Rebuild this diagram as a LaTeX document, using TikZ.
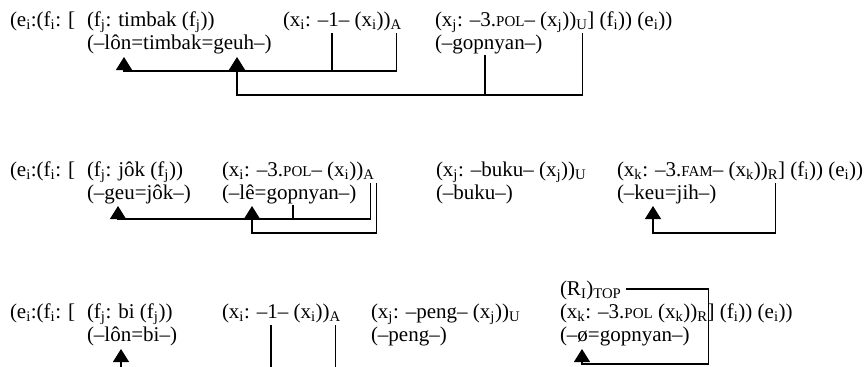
\documentclass[tikz,border=0pt]{standalone}
\usepackage{fontspec}
\setmainfont{Liberation Serif}
\usetikzlibrary{arrows.meta, positioning, calc}

\newcommand{\sub}[1]{\textsubscript{#1}}
\newcommand{\smc}[1]{{\fontsize{15}{15}\selectfont #1}}

\tikzset{
  gloss/.style={anchor=base west, inner sep=0pt, outer sep=0pt,
                font=\fontsize{21}{23}\selectfont},
  link/.style={line width=1.3pt},
  linkarrow/.style={link, -{Triangle[width=16pt,length=13pt]}},
}

\begin{document}
\begin{tikzpicture}[x=1pt,y=-1pt]
  \useasboundingbox (0,0) rectangle (868,367);
  \coordinate (bottom) at (0,367);

  % row 1: timbak
  \node[gloss] (r1ei)  at (10,26)  {(e\sub{i}:(f\sub{i}: [};
  \node[gloss] (r1fj)  at (87,26)  {(f\sub{j}: timbak (f\sub{j}))};
  \node[gloss] (r1lon) at (87,49)  {(–lôn=timbak=geuh–)};
  \node[gloss] (r1xi)  at (283,26) {(x\sub{i}: –1– (x\sub{i}))\sub{A}};
  \node[gloss] (r1xj)  at (435,26) {(x\sub{j}: –3.\smc{POL}– (x\sub{j}))\sub{U}};
  \node[gloss] (r1end) at (r1xj.base east) {] (f\sub{i})) (e\sub{i}))};
  \node[gloss] (r1gop) at (435,49) {(–gopnyan–)};

  \coordinate (r1tipL) at ($(r1lon.base west)+(37,8)$);
  \coordinate (r1tipG) at ($(r1lon.base west)+(150,8)$);
  \coordinate (r1one)  at ($(r1xi.base west)+(49,7)$);
  \coordinate (r1A)    at ($(r1xi.base east)+(-5,7)$);
  \coordinate (r1gp)   at ($(r1gop.base west)+(50,6)$);
  \coordinate (r1U)    at ($(r1xj.base east)+(-5,7)$);
  \draw[linkarrow] (r1A) |- ($(r1tipL)+(0,14)$) -- (r1tipL);
  \draw[link] (r1one) -- ++(0,38);
  \draw[linkarrow] (r1U) |- ($(r1tipG)+(0,38)$) -- (r1tipG);
  \draw[link] (r1gp) -- ++(0,40);

  % row 2: jok
  \node[gloss] (r2ei)   at (10,176)  {(e\sub{i}:(f\sub{i}: [};
  \node[gloss] (r2fj)   at (87,176)  {(f\sub{j}: jôk (f\sub{j}))};
  \node[gloss] (r2geu)  at (87,199)  {(–geu=jôk–)};
  \node[gloss] (r2xi)   at (222,176) {(x\sub{i}: –3.\smc{POL}– (x\sub{i}))\sub{A}};
  \node[gloss] (r2le)   at (222,199) {(–lê=gopnyan–)};
  \node[gloss] (r2xj)   at (436,176) {(x\sub{j}: –buku– (x\sub{j}))\sub{U}};
  \node[gloss] (r2buku) at (436,199) {(–buku–)};
  \node[gloss] (r2xk)   at (617,176) {(x\sub{k}: –3.\smc{FAM}– (x\sub{k}))\sub{R}};
  \node[gloss] (r2end)  at (r2xk.base east) {] (f\sub{i})) (e\sub{i}))};
  \node[gloss] (r2keu)  at (617,199) {(–keu=jih–)};

  \coordinate (r2tipG) at ($(r2geu.base west)+(31,7)$);
  \coordinate (r2tipL) at ($(r2le.base west)+(30,7)$);
  \coordinate (r2gp)   at ($(r2le.base west)+(71,6)$);
  \coordinate (r2Ain)  at ($(r2xi.base east)+(-4,7)$);
  \coordinate (r2Aout) at ($(r2xi.base east)+(2,7)$);
  \coordinate (r2tipK) at ($(r2keu.base west)+(36,7)$);
  \coordinate (r2R)    at ($(r2xk.base east)+(-3,7)$);
  \draw[linkarrow] (r2Ain) |- ($(r2tipG)+(0,13)$) -- (r2tipG);
  \draw[link] (r2gp) -- ++(0,14);
  \draw[linkarrow] (r2Aout) |- ($(r2tipL)+(0,27)$) -- (r2tipL);
  \draw[linkarrow] (r2R) |- ($(r2tipK)+(0,27)$) -- (r2tipK);

  % row 3: bi
  \node[gloss] (r3ei)   at (10,318)  {(e\sub{i}:(f\sub{i}: [};
  \node[gloss] (r3fj)   at (87,318)  {(f\sub{j}: bi (f\sub{j}))};
  \node[gloss] (r3lon)  at (87,341)  {(–lôn=bi–)};
  \node[gloss] (r3xi)   at (222,318) {(x\sub{i}: –1– (x\sub{i}))\sub{A}};
  \node[gloss] (r3xj)   at (371,318) {(x\sub{j}: –peng– (x\sub{j}))\sub{U}};
  \node[gloss] (r3peng) at (371,341) {(–peng–)};
  \node[gloss] (r3top)  at (560,295) {(R\sub{I})\sub{TOP}};
  \node[gloss] (r3xk)   at (560,318) {(x\sub{k}: –3.\smc{POL} (x\sub{k}))\sub{R}};
  \node[gloss] (r3end)  at (r3xk.base east) {] (f\sub{i})) (e\sub{i}))};
  \node[gloss] (r3gop)  at (560,341) {(–ø=gopnyan–)};

  \coordinate (r3tipL) at ($(r3lon.base west)+(34,8)$);
  \coordinate (r3one)  at ($(r3xi.base west)+(49,7)$);
  \coordinate (r3A)    at ($(r3xi.base east)+(-5,7)$);
  \coordinate (r3topR) at ($(r3top.base east)+(5,-6)$);
  \coordinate (r3R)    at ($(r3xk.base east)+(1,46)$);
  \coordinate (r3tipK) at ($(r3gop.base west)+(22,8)$);
  \draw[linkarrow] (r3tipL |- bottom) -- (r3tipL);
  \draw[link] (r3one) -- (r3one |- bottom);
  \draw[link] (r3A) -- (r3A |- bottom);
  \draw[linkarrow] (r3topR) -| (r3R) -| (r3tipK);
\end{tikzpicture}
\end{document}
